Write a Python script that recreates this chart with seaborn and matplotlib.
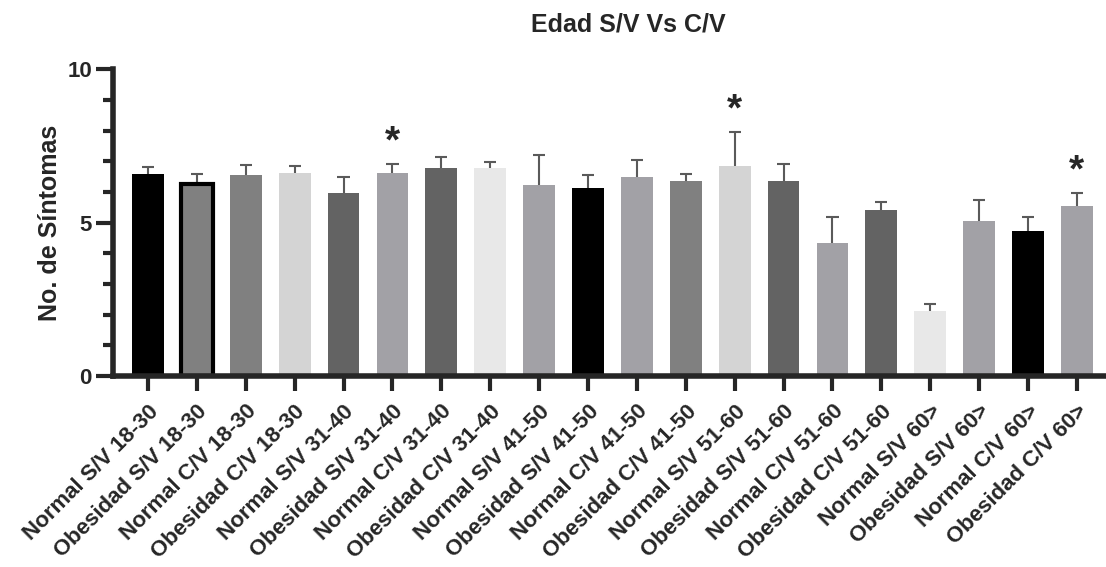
import matplotlib
matplotlib.use("Agg")
import matplotlib.pyplot as plt
import numpy as np
import pandas as pd
import seaborn as sns

grupos = ["Normal S/V 18-30", "Obesidad S/V 18-30", "Normal C/V 18-30", "Obesidad C/V 18-30",
          "Normal S/V 31-40", "Obesidad S/V 31-40", "Normal C/V 31-40", "Obesidad C/V 31-40",
          "Normal S/V 41-50", "Obesidad S/V 41-50", "Normal C/V 41-50", "Obesidad C/V 41-50",
          "Normal S/V 51-60", "Obesidad S/V 51-60", "Normal C/V 51-60", "Obesidad C/V 51-60",
          "Normal S/V 60>", "Obesidad S/V 60>", "Normal C/V 60>", "Obesidad C/V 60>"]
medias = [6.58, 6.27, 6.55, 6.62, 5.97, 6.61, 6.78, 6.79, 6.21, 6.11,
          6.50, 6.37, 6.84, 6.34, 4.33, 5.40, 2.12, 5.06, 4.71, 5.54]
errores = [0.22, 0.31, 0.32, 0.23, 0.50, 0.29, 0.35, 0.17, 0.99, 0.44,
           0.54, 0.22, 1.10, 0.56, 0.85, 0.28, 0.21, 0.67, 0.48, 0.41]
colores = ["#000000", "#808080", "#808080", "#d4d4d4", "#636363", "#a2a1a6", "#636363", "#e8e8e8",
           "#a2a1a6", "#000000", "#a2a1a6", "#808080", "#d4d4d4", "#636363", "#a2a1a6", "#636363",
           "#e8e8e8", "#a2a1a6", "#000000", "#a2a1a6"]
significativos = [5, 12, 19]

sns.set_style("ticks")
plt.rcParams['font.family'] = ['Liberation Sans', 'DejaVu Sans']
plt.rcParams['font.weight'] = 'bold'

df = pd.DataFrame({"grupo": grupos, "media": medias})

fig = plt.figure(figsize=(11.06, 5.67), dpi=100)
ax = fig.add_axes([0.102, 0.337, 0.896, 0.541])

sns.barplot(data=df, x="grupo", y="media", hue="grupo", palette=colores, legend=False,
            width=0.65, ax=ax, saturation=1, linewidth=0, zorder=2)
# borde negro grueso en la segunda barra
ax.patches[1].set_edgecolor("black")
ax.patches[1].set_linewidth(3)

# barras de error solo hacia arriba
x = np.arange(len(grupos))
tope = np.array(medias) + np.array(errores)
ax.vlines(x, medias, tope, color="#5a5a5a", linewidth=1.5, zorder=1)
ax.hlines(tope, x - 0.125, x + 0.125, color="#5a5a5a", linewidth=1.5, zorder=1)
for i in significativos:
    ax.text(i, tope[i] + 0.12, "*", ha="center", va="bottom",
            fontsize=28, fontweight="bold")

ax.set_ylim(0, 10)
ax.set_xlim(-0.72, 19.55)
ax.set_yticks([0, 5, 10])
ax.set_yticks([1, 2, 3, 4, 6, 7, 8, 9], minor=True)
ax.tick_params(axis="y", which="major", length=12, width=3, labelsize=16, pad=3)
ax.tick_params(axis="y", which="minor", length=7, width=3)
ax.tick_params(axis="x", length=11, width=3, labelsize=16, pad=7)
ax.set_xticks(x)
ax.set_xticklabels(grupos, rotation=45, ha="right", rotation_mode="anchor", fontweight="bold")
for lab in ax.get_yticklabels():
    lab.set_fontweight("bold")
ax.set_xlabel("")
ax.set_ylabel("No. de Síntomas", fontsize=18, fontweight="bold", labelpad=4)
ax.set_title("Edad S/V Vs C/V", fontsize=18, fontweight="bold", pad=27, x=0.52)

sns.despine(ax=ax)
for s in ["left", "bottom"]:
    ax.spines[s].set_linewidth(4)

fig.savefig("out.png", dpi=100)
